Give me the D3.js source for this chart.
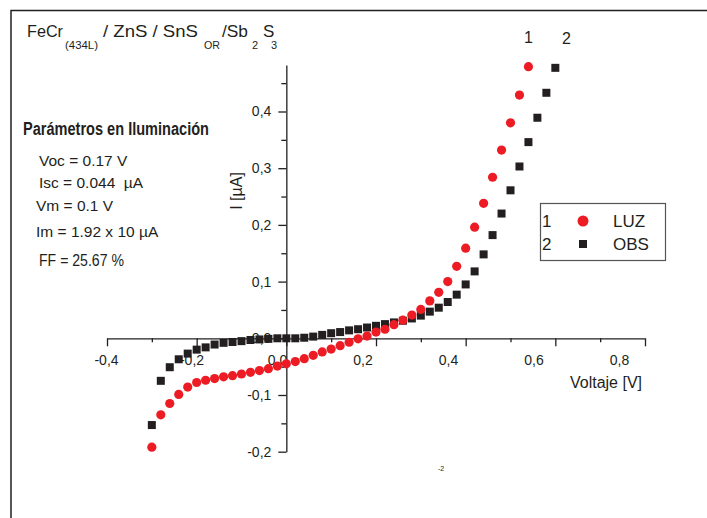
<!DOCTYPE html>
<html>
<head>
<meta charset="utf-8">
<script src="https://cdn.jsdelivr.net/npm/d3@7"></script>
<style>
    body { margin: 0; background: #fff; }
    text { font-family: "Liberation Sans", Arial, sans-serif; fill: #231f20; }
</style>
</head>
<body>
<div id="chart-container"></div>
<script>
// Curve 1 (LUZ) - voltage [V] and current [uA]
var voltLuz = [-0.30, -0.28, -0.26, -0.24, -0.22, -0.20, -0.18, -0.16, -0.14, -0.12, -0.10, -0.08, -0.06, -0.04, -0.02,
    0.00, 0.02, 0.04, 0.06, 0.08, 0.10, 0.12, 0.14, 0.16, 0.18, 0.20, 0.22, 0.24, 0.26, 0.28, 0.30,
    0.32, 0.34, 0.36, 0.38, 0.40, 0.42, 0.44, 0.46, 0.48, 0.50, 0.52, 0.54];
var currLuz = [-0.192, -0.135, -0.115, -0.099, -0.086, -0.078, -0.074, -0.071, -0.068, -0.066, -0.063, -0.060, -0.057, -0.0535, -0.049,
    -0.045, -0.041, -0.036, -0.030, -0.024, -0.019, -0.013, -0.007, -0.001, 0.004, 0.011, 0.016, 0.024, 0.032, 0.041, 0.051,
    0.066, 0.081, 0.100, 0.127, 0.159, 0.196, 0.238, 0.284, 0.332, 0.380, 0.429, 0.479];

// Curve 2 (OBS)
var voltObs = [-0.30, -0.28, -0.26, -0.24, -0.22, -0.20, -0.18, -0.16, -0.14, -0.12, -0.10, -0.08, -0.06, -0.04, -0.02,
    0.00, 0.02, 0.04, 0.06, 0.08, 0.10, 0.12, 0.14, 0.16, 0.18, 0.20, 0.22, 0.24, 0.26, 0.28, 0.30,
    0.32, 0.34, 0.36, 0.38, 0.40, 0.42, 0.44, 0.46, 0.48, 0.50, 0.52, 0.54, 0.56, 0.58, 0.60];
var currObs = [-0.153, -0.075, -0.051, -0.037, -0.027, -0.020, -0.016, -0.011, -0.008, -0.0065, -0.005, -0.003, -0.002, -0.001, 0.000,
    0.000, 0.000, 0.001, 0.003, 0.006, 0.009, 0.011, 0.014, 0.016, 0.019, 0.022, 0.025, 0.028, 0.031, 0.035, 0.040,
    0.047, 0.054, 0.064, 0.077, 0.095, 0.118, 0.148, 0.182, 0.220, 0.261, 0.303, 0.346, 0.389, 0.433, 0.477];

var seriesNames = ["LUZ", "OBS"];
var seriesNums = ["1", "2"];

var xMajorTicks = [-0.4, -0.2, 0, 0.2, 0.4, 0.6, 0.8];
var xMinorTicks = [-0.3, -0.1, 0.1, 0.3, 0.5, 0.7];
var yMajorTicks = [-0.2, -0.1, 0, 0.1, 0.2, 0.3, 0.4];
var yMinorTicks = [-0.15, -0.05, 0.05, 0.15, 0.25, 0.35, 0.45];

var paramTitle = "Parámetros en Iluminación";
var paramLines = ["Voc = 0.17 V", "Isc = 0.044  µA", "Vm = 0.1 V", "Im = 1.92 x 10 µA", "FF = 25.67 %"];

var red = "#ed1c24";
var black = "#231f20";

var svg = d3.select("#chart-container")
    .append("svg")
    .attr("width", 707)
    .attr("height", 518)
    .style("display", "block");

svg.append("rect").attr("width", 707).attr("height", 518).attr("fill", "#fff");

// frame (top and left edges only)
svg.append("path")
    .attr("d", "M11,518V10.5H707")
    .attr("fill", "none")
    .attr("stroke", black)
    .attr("stroke-width", 1.5);

// scales
var xScale = d3.scaleLinear().domain([-0.4, 0.8]).range([107, 645]);
var yScale = d3.scaleLinear().domain([-0.2, 0.482]).range([451.7, 65]);
// tick labels in the original drift left of their ticks
var xLabelScale = d3.scaleLinear().domain([-0.4, 0.8]).range([106, 619]);

var fmt = function(d) { return d3.format(".1f")(d).replace(".", ",").replace("−", "-"); };

var x0 = xScale(0), y0 = yScale(0);

// X axis
svg.append("g")
    .attr("transform", "translate(0," + y0 + ")")
    .call(d3.axisBottom(xScale).tickValues(xMajorTicks).tickSize(8).tickSizeOuter(0).tickFormat(""));
svg.append("g")
    .attr("transform", "translate(0," + y0 + ")")
    .call(d3.axisBottom(xScale).tickValues(xMinorTicks).tickSize(4).tickSizeOuter(0).tickFormat(""))
    .select(".domain").remove();
var xLab = svg.append("g")
    .attr("transform", "translate(0," + y0 + ")")
    .call(d3.axisBottom(xLabelScale).tickValues(xMajorTicks).tickSize(0).tickPadding(17).tickFormat(fmt));
xLab.select(".domain").remove();

// Y axis
var yAx = svg.append("g")
    .attr("transform", "translate(" + x0 + ",0)")
    .call(d3.axisLeft(yScale).tickValues(yMajorTicks).tickSize(8).tickSizeOuter(0).tickPadding(7).tickFormat(fmt));
svg.append("g")
    .attr("transform", "translate(" + x0 + ",0)")
    .call(d3.axisLeft(yScale).tickValues(yMinorTicks).tickSize(5).tickSizeOuter(0).tickFormat(""))
    .select(".domain").remove();

svg.selectAll(".domain, .tick line")
    .attr("stroke", black)
    .attr("stroke-width", 1.3);
svg.selectAll(".tick text")
    .style("font-family", "'Liberation Sans', Arial, sans-serif")
    .style("font-size", "14px")
    .attr("fill", black);

// Axis titles
svg.append("text")
    .attr("x", 642)
    .attr("y", 388)
    .attr("text-anchor", "end")
    .style("font-size", "16px")
    .text("Voltaje [V]");

svg.append("text")
    .attr("transform", "translate(242,191) rotate(-90)")
    .attr("text-anchor", "middle")
    .style("font-size", "16px")
    .text("I [µA]");

// Data points: OBS squares, then LUZ circles on top
var obsData = voltObs.map(function(v, i) { return { v: v, c: currObs[i] }; });
var luzData = voltLuz.map(function(v, i) { return { v: v, c: currLuz[i] }; });

svg.append("g").selectAll("rect")
    .data(obsData)
    .enter().append("rect")
    .attr("x", d => xScale(d.v) - 4)
    .attr("y", d => yScale(d.c) - 4)
    .attr("width", 8)
    .attr("height", 8)
    .attr("fill", black);

svg.append("g").selectAll("circle")
    .data(luzData)
    .enter().append("circle")
    .attr("cx", d => xScale(d.v))
    .attr("cy", d => yScale(d.c))
    .attr("r", 4.6)
    .attr("fill", red);

// curve numbers above the last points
svg.append("text")
    .attr("x", xScale(voltLuz[voltLuz.length - 1]))
    .attr("y", 43)
    .attr("text-anchor", "middle")
    .style("font-size", "16px")
    .text(seriesNums[0]);
svg.append("text")
    .attr("x", xScale(voltObs[voltObs.length - 1]) + 11)
    .attr("y", 44)
    .attr("text-anchor", "middle")
    .style("font-size", "16px")
    .text(seriesNums[1]);

// Legend
var legend = svg.append("g").attr("class", "legend");
legend.append("rect")
    .attr("x", 540.5)
    .attr("y", 203.5)
    .attr("width", 125)
    .attr("height", 57)
    .attr("fill", "none")
    .attr("stroke", "#555")
    .attr("stroke-width", 1.2);

seriesNames.forEach(function(name, i) {
    var by = 227 + i * 23;
    legend.append("text")
        .attr("x", 542)
        .attr("y", by)
        .style("font-size", "17px")
        .text(seriesNums[i]);
    if (i === 0) {
        legend.append("circle")
            .attr("cx", 583)
            .attr("cy", by - 6)
            .attr("r", 5.5)
            .attr("fill", red);
    } else {
        legend.append("rect")
            .attr("x", 579)
            .attr("y", by - 10)
            .attr("width", 8)
            .attr("height", 8)
            .attr("fill", black);
    }
    legend.append("text")
        .attr("x", 613)
        .attr("y", by)
        .style("font-size", "17px")
        .text(name);
});

// Title with subscripts
var title = svg.append("g").attr("class", "title");
var titleParts = [
    { t: "FeCr", x: 27, y: 37, s: 17, w: 36 },
    { t: "(434L)", x: 65, y: 49, s: 11, w: 33 },
    { t: "/ ZnS / SnS", x: 103, y: 37, s: 17, w: 95 },
    { t: "OR", x: 204, y: 49, s: 11, w: 16 },
    { t: "/Sb", x: 222, y: 37, s: 17, w: 26 },
    { t: "2", x: 252, y: 49, s: 11, w: 0 },
    { t: "S", x: 263, y: 37, s: 17, w: 0 },
    { t: "3", x: 271, y: 49, s: 11, w: 0 }
];
titleParts.forEach(function(p) {
    var t = title.append("text")
        .attr("x", p.x)
        .attr("y", p.y)
        .style("font-size", p.s + "px")
        .text(p.t);
    if (p.w) t.attr("textLength", p.w).attr("lengthAdjust", "spacingAndGlyphs");
});

// Parameters block
svg.append("text")
    .attr("x", 23)
    .attr("y", 135)
    .attr("textLength", 186)
    .attr("lengthAdjust", "spacingAndGlyphs")
    .style("font-size", "17.5px")
    .style("font-weight", "bold")
    .text(paramTitle);

var paramX = [39, 39, 36, 36, 39];
var paramY = [166, 188, 211, 237, 266];
paramLines.forEach(function(line, i) {
    var t = svg.append("text")
        .attr("x", paramX[i])
        .attr("y", paramY[i])
        .style("font-size", i === 4 ? "16px" : "15.5px")
        .style("white-space", "pre")
        .text(line);
    if (i === 4) {
        t.attr("textLength", 85).attr("lengthAdjust", "spacingAndGlyphs");
    }
});

// stray exponent left over in the original
svg.append("text")
    .attr("x", 438)
    .attr("y", 471)
    .style("font-size", "7px")
    .attr("fill", "#555")
    .text("-2");
</script>
</body>
</html>
